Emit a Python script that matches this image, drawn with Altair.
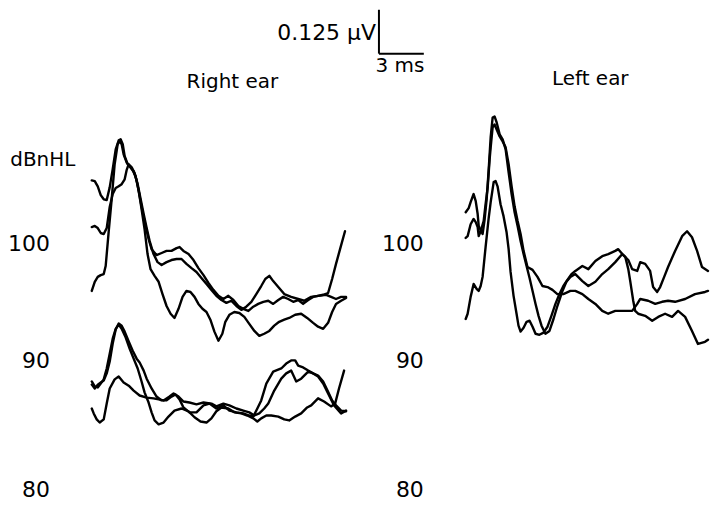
import altair as alt
import pandas as pd

# ---------------- waveform data (time in ms, amplitude in µV) ----------------
# Right ear, 100 dBnHL
R100A_T = [0, 0.2, 0.4, 0.6, 0.8, 1.0, 1.2, 1.4, 1.6, 1.8, 1.93, 2.07, 2.2, 2.4, 2.6, 2.8, 3.0, 3.2, 3.4, 3.6, 3.8, 4.0,
           4.33, 4.67, 5.0, 5.33, 5.67, 5.87, 6.13, 6.47, 6.8, 7.13, 7.47, 7.8, 8.13, 8.47, 8.8, 9.13, 9.47, 9.8, 10.13,
           10.47, 10.8, 11.13, 11.47, 11.8, 12.13, 12.47, 12.8, 13.13, 13.47, 13.8, 14.13, 14.47, 14.8, 15.13, 15.47,
           15.8, 16.07, 16.33, 16.6, 16.93]
R100A_A = [0.190, 0.188, 0.173, 0.148, 0.136, 0.134, 0.170, 0.222, 0.278, 0.304, 0.307, 0.293, 0.259, 0.236, 0.227,
           0.216, 0.190, 0.145, 0.099, 0.060, 0.023, -0.006, -0.023, -0.017, -0.011, -0.011, -0.003, 0.000, -0.011,
           -0.020, -0.037, -0.060, -0.080, -0.102, -0.122, -0.139, -0.148, -0.139, -0.151, -0.168, -0.176, -0.182,
           -0.170, -0.162, -0.156, -0.153, -0.162, -0.151, -0.142, -0.148, -0.156, -0.151, -0.162, -0.151, -0.142,
           -0.139, -0.136, -0.131, -0.091, -0.048, -0.006, 0.045]

R100B_T = [0, 0.2, 0.4, 0.6, 0.8, 1.0, 1.2, 1.4, 1.6, 1.8, 2.0, 2.2, 2.33, 2.47, 2.67, 2.87, 3.07, 3.27, 3.47, 3.67,
           3.87, 4.13, 4.4, 4.67, 5.0, 5.33, 5.67, 6.0, 6.33, 6.67, 7.0, 7.33, 7.67, 8.0, 8.33, 8.67, 9.0, 9.33, 9.67,
           10.0, 10.33, 10.67, 11.0, 11.33, 11.6, 11.87, 12.13, 12.47, 12.87, 13.33, 13.8, 14.2, 14.67, 15.13, 15.67,
           16.0, 16.33, 16.67, 17.0]
R100B_A = [0.057, 0.060, 0.054, 0.040, 0.037, 0.054, 0.114, 0.151, 0.168, 0.173, 0.179, 0.193, 0.219, 0.236, 0.227,
           0.210, 0.179, 0.136, 0.094, 0.054, 0.017, -0.020, -0.043, -0.051, -0.043, -0.037, -0.034, -0.034, -0.048,
           -0.060, -0.071, -0.088, -0.105, -0.122, -0.139, -0.151, -0.159, -0.153, -0.168, -0.179, -0.170, -0.156,
           -0.134, -0.111, -0.091, -0.082, -0.097, -0.114, -0.134, -0.142, -0.148, -0.153, -0.142, -0.139, -0.136,
           -0.142, -0.148, -0.142, -0.142]

R100C_T = [0, 0.2, 0.4, 0.6, 0.8, 0.93, 1.13, 1.33, 1.53, 1.73, 1.87, 2.0, 2.13, 2.33, 2.53, 2.73, 2.93, 3.13, 3.33,
           3.53, 3.73, 3.93, 4.2, 4.47, 4.73, 5.0, 5.27, 5.53, 5.8, 6.07, 6.33, 6.6, 6.87, 7.13, 7.4, 7.67, 7.93, 8.2,
           8.47, 8.73, 8.93, 9.2, 9.53, 9.87, 10.2, 10.53, 10.87, 11.2, 11.53, 11.87, 12.2, 12.53, 12.87, 13.2, 13.6,
           14.0, 14.4, 14.8, 15.13, 15.47, 15.8, 16.07, 16.33, 16.67, 17.0]
R100C_A = [-0.125, -0.099, -0.085, -0.080, -0.077, -0.054, 0.043, 0.136, 0.236, 0.293, 0.301, 0.293, 0.264, 0.241,
           0.230, 0.219, 0.202, 0.162, 0.108, 0.051, -0.020, -0.063, -0.082, -0.099, -0.134, -0.168, -0.190, -0.202,
           -0.176, -0.142, -0.125, -0.128, -0.142, -0.162, -0.176, -0.185, -0.207, -0.241, -0.267, -0.247, -0.213,
           -0.193, -0.185, -0.188, -0.199, -0.219, -0.239, -0.253, -0.247, -0.239, -0.224, -0.213, -0.207, -0.202,
           -0.193, -0.190, -0.202, -0.216, -0.227, -0.233, -0.216, -0.185, -0.162, -0.153, -0.145]

# Right ear, 90 dBnHL
R90A_T = [0, 0.2, 0.4, 0.6, 0.8, 1.0, 1.2, 1.4, 1.6, 1.8, 2.0, 2.2, 2.47, 2.73, 3.0, 3.2, 3.47, 3.67, 4.0, 4.33, 4.67,
          5.0, 5.33, 5.6, 5.87, 6.13, 6.53, 7.0, 7.47, 7.87, 8.33, 8.8, 9.2, 9.67, 10.13, 10.53, 10.8, 11.07, 11.33,
          11.67, 12.13, 12.67, 13.0, 13.33, 13.6, 13.8, 14.13, 14.47, 14.8, 15.13, 15.47, 15.8, 16.07, 16.33, 16.67,
          17.0]
R90A_A = [-0.060, -0.071, -0.060, -0.054, -0.048, -0.028, 0.006, 0.057, 0.097, 0.114, 0.108, 0.091, 0.063, 0.037,
          0.014, 0.003, -0.020, -0.043, -0.071, -0.094, -0.105, -0.105, -0.094, -0.088, -0.102, -0.125, -0.139,
          -0.139, -0.119, -0.114, -0.128, -0.119, -0.134, -0.139, -0.142, -0.148, -0.151, -0.128, -0.105, -0.057,
          -0.023, -0.014, 0.000, 0.009, 0.009, -0.006, -0.011, -0.020, -0.028, -0.034, -0.051, -0.080, -0.105,
          -0.119, -0.134, -0.136]

R90B_T = [0, 0.2, 0.4, 0.6, 0.8, 1.0, 1.2, 1.4, 1.6, 1.8, 2.0, 2.27, 2.53, 2.8, 3.07, 3.33, 3.53, 3.8, 4.0, 4.2, 4.47,
          4.8, 5.13, 5.53, 6.0, 6.47, 6.87, 7.27, 7.67, 8.0, 8.33, 8.67, 9.13, 9.53, 10.0, 10.4, 10.8, 11.07, 11.33,
          11.67, 12.0, 12.47, 12.87, 13.2, 13.6, 14.0, 14.4, 14.67, 15.13, 15.53, 16.0, 16.27, 16.53, 16.87]
R90B_A = [-0.051, -0.065, -0.068, -0.057, -0.045, -0.014, 0.028, 0.071, 0.099, 0.111, 0.099, 0.074, 0.043, 0.014,
          -0.014, -0.051, -0.082, -0.111, -0.139, -0.162, -0.173, -0.168, -0.151, -0.134, -0.128, -0.136, -0.153,
          -0.165, -0.168, -0.156, -0.136, -0.125, -0.128, -0.139, -0.142, -0.148, -0.156, -0.165, -0.156, -0.148,
          -0.148, -0.151, -0.159, -0.162, -0.151, -0.142, -0.125, -0.119, -0.099, -0.108, -0.122, -0.114, -0.071,
          -0.020]

R90C_T = [0, 0.13, 0.33, 0.53, 0.8, 1.0, 1.2, 1.53, 1.8, 2.13, 2.47, 2.8, 3.2, 3.67, 4.13, 4.47, 4.8, 5.2, 5.47, 5.8,
          6.13, 6.53, 7.0, 7.47, 8.0, 8.33, 8.8, 9.2, 9.67, 10.13, 10.53, 10.87, 11.2, 11.53, 11.8, 12.2, 12.67, 13.0,
          13.33, 13.67, 14.0, 14.47, 14.8, 15.13, 15.47, 15.8, 16.2, 16.67, 17.0]
R90C_A = [-0.128, -0.142, -0.159, -0.168, -0.159, -0.114, -0.071, -0.045, -0.037, -0.054, -0.063, -0.077, -0.091,
          -0.097, -0.099, -0.102, -0.105, -0.094, -0.085, -0.094, -0.108, -0.111, -0.116, -0.111, -0.114, -0.122,
          -0.114, -0.119, -0.128, -0.134, -0.139, -0.148, -0.142, -0.128, -0.114, -0.077, -0.043, -0.028, -0.020,
          -0.051, -0.043, -0.023, -0.028, -0.037, -0.057, -0.085, -0.119, -0.142, -0.134]

# Left ear, 100 dBnHL
L100A_T = [0, 0.2, 0.33, 0.53, 0.67, 0.8, 0.87, 1.0, 1.13, 1.27, 1.4, 1.53, 1.67, 1.8, 1.93, 2.07, 2.27, 2.47, 2.67,
           2.87, 3.07, 3.27, 3.47, 3.67, 3.87, 4.07, 4.27, 4.47, 4.67, 4.87, 5.07, 5.33, 5.6, 5.87, 6.13, 6.47, 6.73,
           7.0, 7.33, 7.8, 8.2, 8.67, 9.13, 9.53, 10.0, 10.47, 10.67, 10.87, 11.0, 11.2, 11.33, 11.53, 12.0, 12.47,
           12.87, 13.33, 13.8, 14.2, 14.67, 15.13, 15.53, 16.0, 16.2]
L100A_A = [0.099, 0.111, 0.128, 0.151, 0.131, 0.094, 0.060, 0.048, 0.037, 0.080, 0.136, 0.216, 0.313, 0.369, 0.372,
           0.355, 0.321, 0.307, 0.278, 0.213, 0.151, 0.099, 0.060, 0.017, -0.020, -0.054, -0.088, -0.125, -0.162,
           -0.196, -0.224, -0.247, -0.239, -0.205, -0.168, -0.125, -0.099, -0.085, -0.077, -0.097, -0.111, -0.099,
           -0.077, -0.063, -0.043, -0.020, -0.028, -0.063, -0.097, -0.153, -0.182, -0.190, -0.196, -0.210, -0.199,
           -0.190, -0.199, -0.182, -0.199, -0.239, -0.276, -0.270, -0.264]

L100B_T = [0, 0.13, 0.33, 0.53, 0.73, 0.87, 1.0, 1.13, 1.33, 1.53, 1.67, 1.87, 2.0, 2.13, 2.33, 2.53, 2.73, 2.87, 3.0,
           3.2, 3.4, 3.53, 3.67, 3.87, 4.07, 4.27, 4.47, 4.67, 4.93, 5.2, 5.47, 5.73, 6.0, 6.27, 6.53, 6.8, 7.07, 7.33,
           7.8, 8.2, 8.67, 9.13, 9.53, 10.0, 10.2, 10.47, 10.87, 11.13, 11.47, 11.67, 12.0, 12.33, 12.53, 12.8, 13.0,
           13.27, 13.53, 14.0, 14.47, 14.8, 15.13, 15.47, 15.8, 16.2]
L100B_A = [-0.205, -0.190, -0.142, -0.105, -0.119, -0.125, -0.111, -0.085, 0.000, 0.080, 0.128, 0.185, 0.188, 0.173,
           0.122, 0.088, 0.043, -0.006, -0.071, -0.139, -0.190, -0.224, -0.241, -0.230, -0.213, -0.210, -0.227,
           -0.247, -0.250, -0.244, -0.227, -0.196, -0.162, -0.134, -0.111, -0.094, -0.077, -0.068, -0.054, -0.063,
           -0.040, -0.026, -0.020, -0.011, -0.006, -0.020, -0.037, -0.063, -0.068, -0.043, -0.048, -0.068, -0.114,
           -0.128, -0.114, -0.085, -0.057, -0.011, 0.031, 0.045, 0.028, -0.011, -0.057, -0.068]

L100C_T = [0, 0.13, 0.33, 0.53, 0.67, 0.8, 0.87, 1.0, 1.2, 1.33, 1.47, 1.6, 1.67, 1.8, 1.93, 2.07, 2.27, 2.47, 2.67,
           2.87, 3.07, 3.27, 3.47, 3.67, 3.87, 4.13, 4.47, 4.8, 5.13, 5.47, 5.8, 6.13, 6.53, 7.0, 7.33, 7.8, 8.2, 8.67,
           9.13, 9.53, 10.0, 10.67, 11.13, 11.47, 11.67, 12.2, 12.67, 13.13, 13.53, 14.0, 14.67, 15.33, 16.0, 16.2]
L100C_A = [0.026, 0.031, 0.065, 0.080, 0.071, 0.057, 0.031, 0.045, 0.074, 0.122, 0.170, 0.250, 0.284, 0.341, 0.349,
           0.335, 0.315, 0.301, 0.284, 0.236, 0.173, 0.116, 0.074, 0.037, -0.011, -0.057, -0.065, -0.085, -0.111,
           -0.114, -0.122, -0.134, -0.134, -0.125, -0.125, -0.134, -0.148, -0.162, -0.182, -0.190, -0.182, -0.182,
           -0.182, -0.162, -0.148, -0.153, -0.162, -0.156, -0.153, -0.156, -0.148, -0.134, -0.128, -0.125]

TRACES = [
    ("Right", 100, "a", R100A_T, R100A_A),
    ("Right", 100, "b", R100B_T, R100B_A),
    ("Right", 100, "c", R100C_T, R100C_A),
    ("Right", 90, "a", R90A_T, R90A_A),
    ("Right", 90, "b", R90B_T, R90B_A),
    ("Right", 90, "c", R90C_T, R90C_A),
    ("Left", 100, "a", L100A_T, L100A_A),
    ("Left", 100, "b", L100B_T, L100B_A),
    ("Left", 100, "c", L100C_T, L100C_A),
]

LEVELS = [100, 90, 80]
LEVEL_OFFSET_UV = {100: 0.0, 90: -0.332, 80: -0.702}   # vertical stacking of the levels
EAR_OFFSET_MS = {"Right": 0.0, "Left": 25.0}            # horizontal placement of the two ears
EAR_TITLES = {"Right": "Right ear", "Left": "Left ear"}

SCALE_BAR_UV = 0.125
SCALE_BAR_MS = 3

X_DOMAIN = [-5.467, 41.467]
Y_DOMAIN = [-0.7756, 0.6676]

FONT = "DejaVu Sans"

# ---------------- build tables ----------------
rows = []
for ear, level, rep, ts, amps in TRACES:
    for i, (t, a) in enumerate(zip(ts, amps)):
        rows.append({
            "trace": f"{ear}-{level}-{rep}",
            "i": i,
            "x": t + EAR_OFFSET_MS[ear],
            "y": a + LEVEL_OFFSET_UV[level],
        })
wave_df = pd.DataFrame(rows)

label_rows = []
for ear in ["Right", "Left"]:
    for lv in LEVELS:
        label_rows.append({"x": EAR_OFFSET_MS[ear] - 2.8, "y": LEVEL_OFFSET_UV[lv], "text": str(lv)})
label_df = pd.DataFrame(label_rows)

title_df = pd.DataFrame([
    {"x": EAR_OFFSET_MS["Right"] + 9.4, "y": 0.463, "text": EAR_TITLES["Right"]},
    {"x": EAR_OFFSET_MS["Left"] + 8.33, "y": 0.469, "text": EAR_TITLES["Left"]},
])

unit_df = pd.DataFrame([{"x": -5.45, "y": 0.239, "text": "dBnHL"}])

bar_x0 = 19.2
bar_y0 = 0.551
vbar_df = pd.DataFrame([{"x": bar_x0, "y": bar_y0, "y2": bar_y0 + SCALE_BAR_UV}])
hbar_df = pd.DataFrame([{"x": bar_x0, "x2": bar_x0 + SCALE_BAR_MS, "y": bar_y0}])
bar_text_df = pd.DataFrame([
    {"x": bar_x0 - 0.2, "y": 0.605, "text": f"{SCALE_BAR_UV} μV"},
])
bar_text2_df = pd.DataFrame([
    {"x": bar_x0 + SCALE_BAR_MS / 2 - 0.1, "y": 0.51, "text": f"{SCALE_BAR_MS} ms"},
])

xs = alt.Scale(domain=X_DOMAIN)
ys = alt.Scale(domain=Y_DOMAIN)
X = lambda f: alt.X(f, type="quantitative", scale=xs, axis=None)
Y = lambda f: alt.Y(f, type="quantitative", scale=ys, axis=None)

waves = alt.Chart(wave_df).mark_line(
    color="black", strokeWidth=2.4, strokeJoin="round", strokeCap="round"
).encode(x=X("x"), y=Y("y"), detail="trace:N", order="i:Q")

level_labels = alt.Chart(label_df).mark_text(
    font=FONT, fontSize=22, align="right", baseline="middle", color="black", dy=-3
).encode(x=X("x"), y=Y("y"), text="text:N")

titles = alt.Chart(title_df).mark_text(
    font=FONT, fontSize=20, align="center", baseline="middle", color="black", dy=-3
).encode(x=X("x"), y=Y("y"), text="text:N")

unit = alt.Chart(unit_df).mark_text(
    font=FONT, fontSize=20, align="left", baseline="middle", color="black", dy=-3
).encode(x=X("x"), y=Y("y"), text="text:N")

vbar = alt.Chart(vbar_df).mark_rule(color="black", strokeWidth=2).encode(
    x=X("x"), y=Y("y"), y2="y2:Q")
hbar = alt.Chart(hbar_df).mark_rule(color="black", strokeWidth=2).encode(
    x=X("x"), x2="x2:Q", y=Y("y"))

bar_text = alt.Chart(bar_text_df).mark_text(
    font=FONT, fontSize=22, align="right", baseline="middle", color="black", dy=-2
).encode(x=X("x"), y=Y("y"), text="text:N")
bar_text2 = alt.Chart(bar_text2_df).mark_text(
    font=FONT, fontSize=20, align="center", baseline="middle", color="black", dy=-2
).encode(x=X("x"), y=Y("y"), text="text:N")

chart = alt.layer(
    waves, level_labels, titles, unit, vbar, hbar, bar_text, bar_text2
).properties(
    width=704, height=508, padding=0, background="white"
).configure_view(stroke=None)

chart.save("out.html", embed_options={"renderer": "svg", "actions": False})
